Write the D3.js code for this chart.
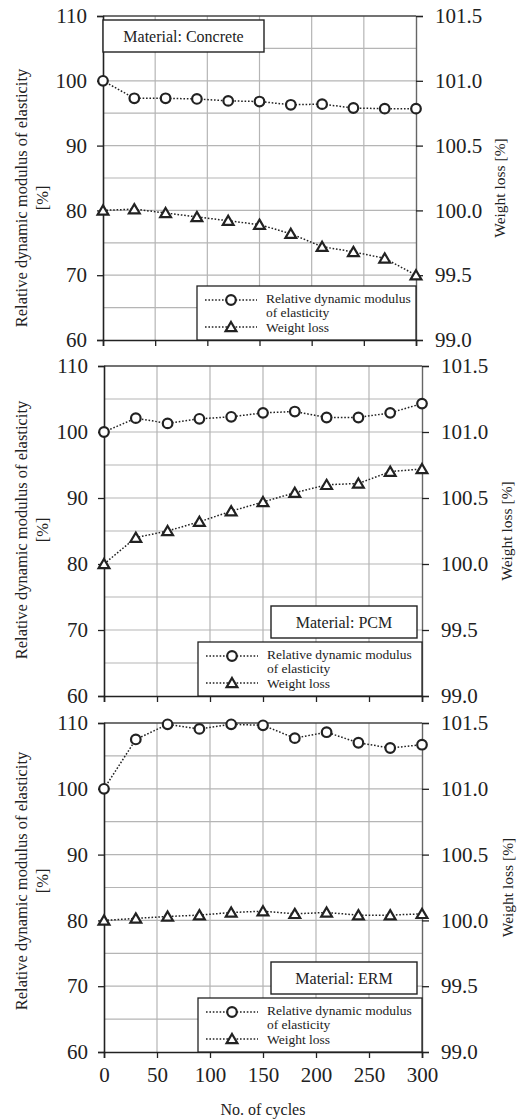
<!DOCTYPE html>
<html>
<head>
<meta charset="utf-8">
<script src="https://cdn.jsdelivr.net/npm/d3@7"></script>
<style>
  html, body { margin: 0; padding: 0; background: #fff; }
  svg { display: block; }
</style>
</head>
<body>
<svg id="chart" width="519" height="1119"></svg>
<script>
// freeze-thaw cycles, three materials

const cycles = [0, 30, 60, 90, 120, 150, 180, 210, 240, 270, 300];

const concreteRDM = [100, 97.3, 97.3, 97.2, 96.9, 96.8, 96.3, 96.4, 95.8, 95.7, 95.7];
const concreteWL  = [100.0, 100.01, 99.98, 99.95, 99.92, 99.89, 99.82, 99.72, 99.68, 99.63, 99.5];

const pcmRDM = [100, 102.1, 101.3, 102.0, 102.3, 102.9, 103.1, 102.2, 102.2, 102.9, 104.3];
const pcmWL  = [100.0, 100.2, 100.25, 100.32, 100.4, 100.47, 100.54, 100.6, 100.61, 100.7, 100.72];

const ermRDM = [100, 107.5, 109.8, 109.1, 109.8, 109.65, 107.7, 108.6, 107.0, 106.2, 106.7];
const ermWL  = [100.0, 100.015, 100.03, 100.04, 100.06, 100.07, 100.05, 100.06, 100.04, 100.04, 100.05];

const materials = ['Material: Concrete', 'Material: PCM', 'Material: ERM'];

const leftTicks  = [60, 70, 80, 90, 100, 110];
const rightTicks = [99.0, 99.5, 100.0, 100.5, 101.0, 101.5];
const xTicks     = [0, 50, 100, 150, 200, 250, 300];

const leftTitle  = ['Relative dynamic modulus of elasticity', '[%]'];
const rightTitle = 'Weight loss [%]';
const xTitle     = 'No. of cycles';
const legendRDM  = ['Relative dynamic modulus', 'of elasticity'];
const legendWL   = 'Weight loss';

// panel layout (pixels)
const panels = [
  { x0: 103, x1: 416, y0: 16,  y1: 340,  rdm: concreteRDM, wl: concreteWL, labelY: 198, rightX: 500, boxTop: true },
  { x0: 104, x1: 422, y0: 366, y1: 696,  rdm: pcmRDM, wl: pcmWL, labelY: 530, rightX: 507, boxTop: false },
  { x0: 104, x1: 422, y0: 723, y1: 1052, rdm: ermRDM, wl: ermWL, labelY: 881, rightX: 508, boxTop: false, xLabels: true }
];

const FONT = '"Liberation Serif", "Times New Roman", serif';
const svg = d3.select('#chart');
const ink = '#222';

function triPath() {
  return 'M0,-5L5.4,4.2L-5.4,4.2Z';
}

panels.forEach((p, i) => {
  const x = d3.scaleLinear().domain([0, 300]).range([p.x0, p.x1]);
  const yL = d3.scaleLinear().domain([60, 110]).range([p.y1, p.y0]);
  const yR = d3.scaleLinear().domain([99.0, 101.5]).range([p.y1, p.y0]);
  const g = svg.append('g');

  // grid
  g.append('g').selectAll('line')
    .data(d3.range(65, 110, 5))
    .join('line')
      .attr('x1', p.x0).attr('x2', p.x1)
      .attr('y1', d => yL(d)).attr('y2', d => yL(d))
      .attr('stroke', '#b5b5b5').attr('stroke-width', 1.2);
  g.append('g').selectAll('line')
    .data(xTicks.slice(1, -1))
    .join('line')
      .attr('x1', d => x(d)).attr('x2', d => x(d))
      .attr('y1', p.y0).attr('y2', p.y1)
      .attr('stroke', '#b5b5b5').attr('stroke-width', 1.2);

  // top frame
  g.append('line').attr('x1', p.x0).attr('x2', p.x1).attr('y1', p.y0).attr('y2', p.y0)
    .attr('stroke', '#444').attr('stroke-width', 1.3);

  // axes
  const left = g.append('g').attr('transform', `translate(${p.x0},0)`)
    .call(d3.axisLeft(yL).tickValues(leftTicks).tickSize(6).tickFormat(d3.format('d')));
  const right = g.append('g').attr('transform', `translate(${p.x1},0)`)
    .call(d3.axisRight(yR).tickValues(rightTicks).tickSize(7).tickFormat(d3.format('.1f')));
  const bottom = g.append('g').attr('transform', `translate(0,${p.y1})`)
    .call(d3.axisBottom(x).tickValues(xTicks).tickSize(6).tickFormat(p.xLabels ? d3.format('d') : ''));

  [left, right, bottom].forEach(a => {
    a.attr('font-family', null).attr('font-size', null);
    a.select('.domain').attr('stroke', ink).attr('stroke-width', 1.6);
    a.selectAll('.tick line').attr('stroke', ink).attr('stroke-width', 1.3);
    a.selectAll('.tick text').attr('font-size', 21).attr('fill', ink);
  });
  right.select('.domain').attr('stroke', '#666').attr('stroke-width', 1.4);
  left.selectAll('.tick text').attr('x', -16);
  right.selectAll('.tick text').attr('x', 19);
  bottom.selectAll('.tick text').attr('y', 15);

  // material label box
  const bw = p.boxTop ? 161 : 146;
  const bx = p.boxTop ? p.x0 : p.x0 + 167;
  const by = p.boxTop ? p.y0 + 4 : p.y1 - 90;
  g.append('rect').attr('x', bx).attr('y', by).attr('width', bw).attr('height', 32)
    .attr('fill', '#fff').attr('stroke', ink).attr('stroke-width', 1.4);
  g.append('text').attr('x', bx + bw / 2).attr('y', by + 21.5)
    .attr('text-anchor', 'middle').attr('font-size', 16).text(materials[i]);

  // series
  const dash = '1.6,1.8';
  const lineL = d3.line().x((d, k) => x(cycles[k])).y(d => yL(d));
  const lineR = d3.line().x((d, k) => x(cycles[k])).y(d => yR(d));
  g.append('path').attr('d', lineR(p.wl)).attr('fill', 'none')
    .attr('stroke', ink).attr('stroke-width', 1.5).attr('stroke-dasharray', dash);
  g.append('path').attr('d', lineL(p.rdm)).attr('fill', 'none')
    .attr('stroke', ink).attr('stroke-width', 1.5).attr('stroke-dasharray', dash);

  g.append('g').selectAll('path')
    .data(p.wl)
    .join('path')
      .attr('transform', (d, k) => `translate(${x(cycles[k])},${yR(d)})`)
      .attr('d', triPath())
      .attr('fill', '#fff').attr('stroke', ink).attr('stroke-width', 2.2);
  g.append('g').selectAll('circle')
    .data(p.rdm)
    .join('circle')
      .attr('cx', (d, k) => x(cycles[k])).attr('cy', d => yL(d)).attr('r', 4.8)
      .attr('fill', '#fff').attr('stroke', ink).attr('stroke-width', 2.2);

  // legend
  const lx = p.x0 + 94, ly = p.y1 - 54;
  const leg = g.append('g');
  leg.append('rect').attr('x', lx).attr('y', ly).attr('width', p.x1 - lx).attr('height', 54)
    .attr('fill', '#fff').attr('stroke', ink).attr('stroke-width', 1.3);
  [ly + 14, ly + 41].forEach((yy, k) => {
    leg.append('line').attr('x1', lx + 8).attr('x2', lx + 60).attr('y1', yy).attr('y2', yy)
      .attr('stroke', ink).attr('stroke-width', 1.5).attr('stroke-dasharray', dash);
    if (k === 0) {
      leg.append('circle').attr('cx', lx + 34).attr('cy', yy).attr('r', 4.8)
        .attr('fill', '#fff').attr('stroke', ink).attr('stroke-width', 2.2);
    } else {
      leg.append('path').attr('transform', `translate(${lx + 34},${yy})`).attr('d', triPath())
        .attr('fill', '#fff').attr('stroke', ink).attr('stroke-width', 2.2);
    }
  });
  leg.append('text').attr('x', lx + 69).attr('y', ly + 17).attr('font-size', 13.5).text(legendRDM[0]);
  leg.append('text').attr('x', lx + 69).attr('y', ly + 31).attr('font-size', 13.5).text(legendRDM[1]);
  leg.append('text').attr('x', lx + 69).attr('y', ly + 46).attr('font-size', 13.5).text(legendWL);

  // axis titles
  const lt = g.append('text').attr('transform', `translate(21,${p.labelY}) rotate(-90)`)
    .attr('text-anchor', 'middle').attr('font-size', 16.5);
  lt.append('tspan').attr('x', 0).attr('y', 0).attr('dy', '0.35em').text(leftTitle[0]);
  lt.append('tspan').attr('x', 0).attr('y', 21.5).attr('dy', '0.35em').text(leftTitle[1]);

  g.append('text').attr('transform', `translate(${p.rightX},${(p.y0 + p.y1) / 2 + (i === 0 ? 10 : 0)}) rotate(-90)`)
    .attr('text-anchor', 'middle').attr('dy', '0.35em').attr('font-size', 15.5).text(rightTitle);
});

svg.append('text').attr('x', 263).attr('y', 1115).attr('text-anchor', 'middle')
  .attr('font-size', 16).text(xTitle);

svg.selectAll('text').style('font-family', FONT).attr('fill', ink);
</script>
</body>
</html>
